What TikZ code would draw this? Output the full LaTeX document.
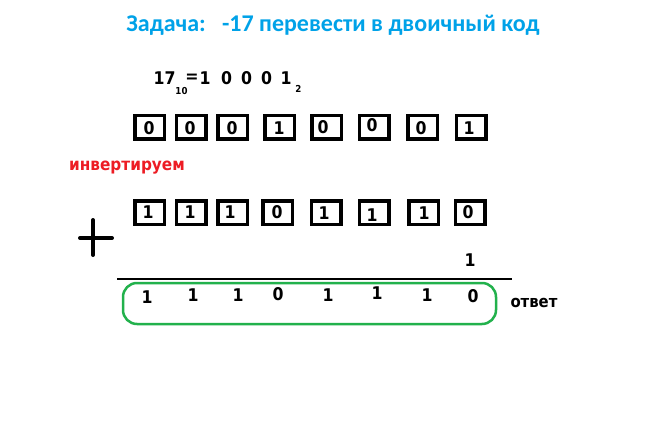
\documentclass[tikz,border=0pt]{standalone}
\usepackage{fontspec}
\setmainfont{Carlito}
\newfontfamily\tah{DejaVu Sans Condensed}
\definecolor{ttl}{HTML}{00A2E8}
\definecolor{rd}{HTML}{ED1C24}
\definecolor{gr}{HTML}{22B14C}
\begin{document}
\begin{tikzpicture}[x=1pt,y=-1pt,
  dig/.style={font=\tah\fontsize{17.5}{17.5}\selectfont\bfseries, inner sep=0pt},
  sub/.style={font=\tah\fontsize{9.6}{9.6}\selectfont\bfseries, inner sep=0pt},
  bx/.style={draw=black, line width=3.5pt, minimum width=29.5pt, minimum height=23.5pt, inner sep=0pt}]
\useasboundingbox[fill=white] (0,0) rectangle (654,431);
\node[font=\fontsize{24}{24}\selectfont\bfseries, text=ttl] (title) at (333,25) {Задача:\ \ \ -17 перевести в двоичный код};
% 17_10 = 10001_2
\node[dig] (n17) at (164.5,78.5) {17};
\node[sub] (s10) at (181.5,91.5) {10};
\node[dig] (eq) at (192,78.5) {=};
\foreach \j/\x/\d in {1/205/1, 2/226.5/0, 3/246.5/0, 4/266.5/0, 5/286/1}{
  \node[dig] (bin\j) at (\x,78.5) {\d};
}
\node[sub] (s2) at (298.5,88.5) {2};
% row 1 boxes
\foreach \i/\x/\d/\dx/\dy in {1/149.5/0/149/128, 2/191/0/190/128, 3/232.5/0/232/128, 4/279.5/1/279/128, 5/326.5/0/323/127, 6/374/0/372/125, 7/422.5/0/421/128, 8/471/1/469/128}{
  \node[bx] (a\i) at (\x,127) {};
  \node[dig] (ad\i) at (\dx,\dy) {\d};
}
\node[font=\tah\fontsize{17}{17}\selectfont\bfseries, text=rd] (inv) at (127,168) {инвертируем};
% row 2 boxes
\foreach \i/\x/\d/\dx/\dy in {1/149.5/1/148/212, 2/191/1/190/212, 3/232.5/1/230/212, 4/277.5/0/277/212, 5/326/1/324/213, 6/374/1/372/215, 7/423.5/1/424/213, 8/470/0/468/212}{
  \node[bx] (b\i) at (\x,212.5) {};
  \node[dig] (bd\i) at (\dx,\dy) {\d};
}
% plus
\coordinate (pl) at (80,238); \coordinate (pr) at (112,238);
\coordinate (pt) at (93,220); \coordinate (pb) at (93,255);
\draw[line width=4pt, line cap=round] (pl) -- (pr) (pt) -- (pb);
\node[dig] (one) at (470,260) {1};
% sum line
\coordinate (l1) at (117,279); \coordinate (l2) at (512,279);
\draw[line width=2pt] (l1) -- (l2);
% answer
\foreach \i/\x/\y/\d in {1/147/297/1, 2/193/295/1, 3/238/295/1, 4/278/294/0, 5/328/295/1, 6/377/293/1, 7/427/295/1, 8/473/296/0}{
  \node[dig] (c\i) at (\x,\y) {\d};
}
\draw[gr, line width=2.5pt, rounded corners=14pt] (123,283) rectangle (496,324);
\node[font=\tah\fontsize{16.5}{16.5}\selectfont\bfseries, anchor=west] (otv) at (507,303) {ответ};
\end{tikzpicture}
\end{document}
